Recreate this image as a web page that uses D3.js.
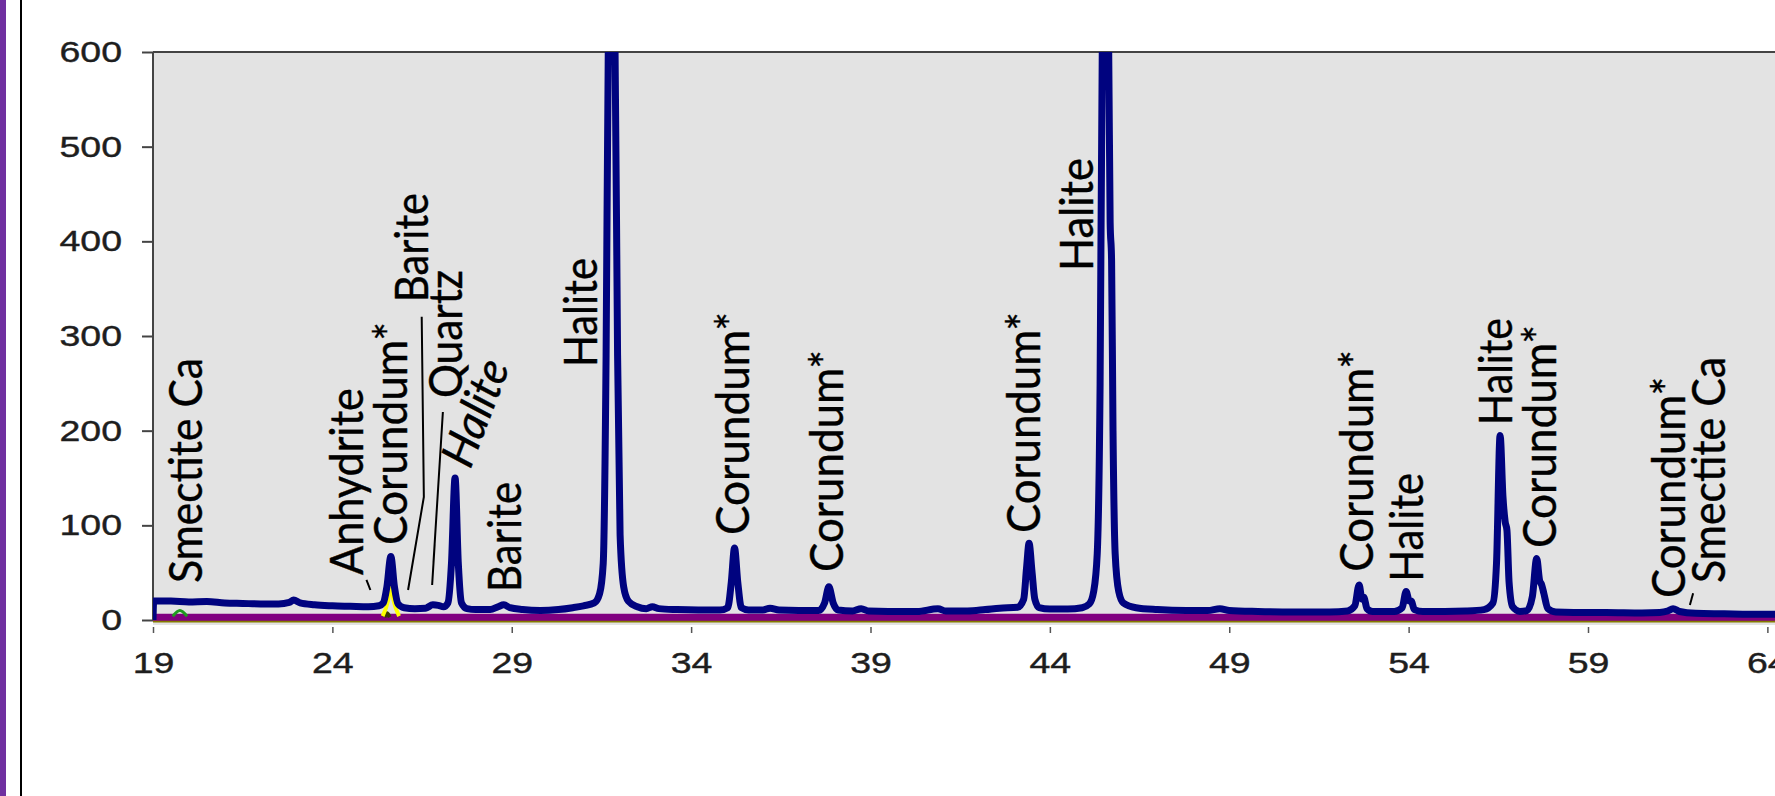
<!DOCTYPE html>
<html>
<head>
<meta charset="utf-8">
<script src="https://cdn.jsdelivr.net/npm/d3@7"></script>
<style>
  body { margin: 0; background: #ffffff; }
  svg { display: block; }
</style>
</head>
<body>
<div id="content"></div>
<script>
var observed = [
  [19.00, 0], [19.02, 20], [19.5, 20], [20.0, 19], [20.5, 19.5], [21.0, 18], [21.5, 17.5],
  [22.0, 17], [22.5, 17], [22.8, 18.5], [22.92, 21], [23.1, 18], [23.5, 16], [24.0, 15],
  [24.5, 14.5], [25.0, 14], [25.3, 15], [25.42, 18], [25.52, 35], [25.63, 67], [25.73, 35],
  [25.83, 17], [26.0, 13], [26.3, 12], [26.6, 12.5], [26.8, 16], [26.95, 15.5], [27.1, 14],
  [27.22, 18], [27.32, 60], [27.42, 150], [27.51, 60], [27.6, 18], [27.75, 12], [28.0, 11],
  [28.4, 11], [28.62, 14], [28.78, 16], [28.95, 13], [29.3, 11], [29.8, 10], [30.3, 11],
  [30.7, 13], [31.0, 15], [31.3, 18], [31.45, 28], [31.55, 60], [31.63, 280], [31.69, 600],
  [31.78, 720], [31.88, 600], [31.95, 280], [32.02, 90], [32.12, 35], [32.25, 20], [32.5, 14],
  [32.75, 12], [32.92, 14], [33.1, 12], [33.6, 11], [34.2, 10.5], [34.8, 10.5], [35.02, 13],
  [35.12, 40], [35.21, 76], [35.3, 40], [35.4, 13], [35.6, 10.5], [36.0, 10.5], [36.2, 12.5],
  [36.45, 10.5], [37.0, 10], [37.55, 10], [37.72, 18], [37.84, 35], [37.96, 18], [38.1, 10.5],
  [38.5, 9.5], [38.74, 12], [38.95, 9.5], [39.5, 9], [40.3, 9], [40.88, 12], [41.1, 9.5],
  [41.7, 9.5], [42.2, 11], [42.6, 12.5], [43.1, 13.5], [43.27, 22], [43.35, 55], [43.42, 81],
  [43.5, 52], [43.58, 22], [43.7, 13], [44.0, 11.5], [44.5, 11.5], [44.9, 13], [45.1, 17],
  [45.22, 30], [45.32, 70], [45.4, 250], [45.46, 600], [45.55, 720], [45.64, 600], [45.68, 420],
  [45.72, 380], [45.76, 200], [45.82, 70], [45.92, 30], [46.05, 18], [46.4, 13], [47.0, 11],
  [47.8, 10], [48.4, 10], [48.74, 12], [49.0, 10], [49.8, 9], [50.8, 8.5], [51.8, 8.5],
  [52.3, 9.5], [52.5, 15], [52.62, 37], [52.7, 22], [52.75, 24], [52.84, 12], [53.0, 9],
  [53.6, 9], [53.82, 13], [53.93, 30], [54.02, 20], [54.07, 20], [54.16, 11], [54.4, 9],
  [55.0, 9], [55.6, 9.5], [56.1, 11], [56.35, 18], [56.45, 60], [56.55, 195], [56.63, 130],
  [56.69, 104], [56.74, 95], [56.8, 40], [56.9, 14], [57.1, 9], [57.3, 10], [57.45, 25],
  [57.57, 65], [57.65, 42], [57.71, 37], [57.77, 28], [57.88, 12], [58.1, 8.5], [58.6, 8],
  [59.5, 8], [60.5, 7.5], [61.0, 8], [61.22, 9.5], [61.37, 12], [61.55, 9], [62.0, 7],
  [62.8, 6.5], [63.5, 6], [64.3, 6]
];

// Phase traces near the bottom
var smectiteTrace = [[19.55, 4], [19.75, 10], [19.95, 4]];
var corundumTrace = [[25.4, 4], [25.55, 20], [25.63, 36], [25.71, 20], [25.86, 4]];
var anhydriteTrace = [[25.45, 3], [25.52, 7], [25.6, 3]];
var backgroundTrace = [[19, 3], [64.3, 3]];
var zeroTrace = [[19, -1], [64.3, -1]];

// Axis ticks
var xTicks = [19, 24, 29, 34, 39, 44, 49, 54, 59, 64];
var yTicks = [0, 100, 200, 300, 400, 500, 600];

// Peak labels: start [2theta, counts] and end [2theta, counts]
var labelText = ["Smectite Ca", "Anhydrite", "Corundum*", "Barite", "Quartz", "Halite", "Barite",
  "Halite", "Corundum*", "Corundum*", "Corundum*", "Halite", "Corundum*", "Halite", "Halite",
  "Corundum*", "Corundum*", "Smectite Ca"];
var labelTheta = [20.36, 24.85, 26.07, 26.67, 27.61, 27.84, 29.26, 31.38, 35.61, 38.23, 43.72,
  45.2, 53.0, 54.39, 56.87, 58.11, 61.7, 62.82];
var labelFrom = [39.1, 47.5, 79.2, 336, 234.5, 158.4, 29.6, 267.2, 89.8, 50.7, 91.9, 368.6, 51,
  40.5, 206, 76, 23.2, 39.1];
var labelThetaEnd = [20.36, 24.85, 26.07, 26.67, 27.61, 28.95, 29.26, 31.38, 35.61, 38.23, 43.72,
  45.2, 53.0, 54.39, 56.87, 58.11, 61.7, 62.82];
var labelTo = [276.8, 245, 314.8, 451, 369.7, 267.6, 145.8, 382.4, 325.3, 285.2, 325.3, 488,
  285.2, 155.3, 319, 311.6, 256.7, 277.8];

// Leader lines from labels to peaks
var leaders = [
  [[24.95, 42.3], [25.06, 31.7]],
  [[26.49, 320.4], [26.55, 130], [26.11, 31.7]],
  [[27.08, 219.7], [26.78, 37]],
  [[61.84, 15.8], [61.93, 28.2]]
];

// Image size
var width = 1775;
var height = 796;

// Plot frame
var plotLeft = 153;
var plotTop = 52;
var plotBottom = 625;

// Tick labels in the source look stretched sideways
var tickStretch = 1.25;

var x = d3.scaleLinear().domain([19, 64]).range([153, 153 + 45 * 35.875]);
var y = d3.scaleLinear().domain([0, 600]).range([620, 52]);

var svg = d3.select("#content")
  .append("svg")
  .attr("width", width)
  .attr("height", height);

// Slide decoration on the left
svg.append("rect")
  .attr("x", 0).attr("y", 0)
  .attr("width", 6).attr("height", height)
  .style("fill", "#7030a0");
svg.append("line")
  .attr("x1", 21).attr("x2", 21)
  .attr("y1", 0).attr("y2", height)
  .style("stroke", "#000").style("stroke-width", 2);

// Plot background
svg.append("rect")
  .attr("x", plotLeft).attr("y", plotTop)
  .attr("width", width - plotLeft).attr("height", plotBottom - plotTop)
  .style("fill", "#e3e3e3");

svg.append("clipPath").attr("id", "plotClip")
  .append("rect")
  .attr("x", plotLeft).attr("y", plotTop)
  .attr("width", width - plotLeft).attr("height", plotBottom - plotTop);

function styleTickText(sel){
  sel.style("font-family", "'Liberation Sans', Arial, sans-serif")
    .style("font-size", "30px")
    .style("fill", "#1e1e1e")
    .style("stroke", "#1e1e1e")
    .style("stroke-width", 0.4)
    .each(function(){
      var w = this.getComputedTextLength();
      d3.select(this)
        .attr("textLength", w * tickStretch)
        .attr("lengthAdjust", "spacingAndGlyphs");
    });
}

// Y axis
var yAxis = svg.append("g")
  .attr("transform", "translate(" + plotLeft + ",0)")
  .call(d3.axisLeft(y).tickValues(yTicks).tickSize(11).tickPadding(20));
yAxis.select(".domain").remove();
yAxis.selectAll("line").style("stroke", "#444").style("stroke-width", 2);
styleTickText(yAxis.selectAll("text"));

// X axis
var xAxis = svg.append("g")
  .attr("transform", "translate(0," + (plotBottom + 2) + ")")
  .call(d3.axisBottom(x).tickValues(xTicks).tickSize(6).tickPadding(19));
xAxis.select(".domain").remove();
xAxis.selectAll("line").style("stroke", "#555").style("stroke-width", 1.5);
styleTickText(xAxis.selectAll("text"));

// Frame lines (left and top)
svg.append("line")
  .attr("x1", plotLeft).attr("x2", plotLeft)
  .attr("y1", plotTop).attr("y2", y(0))
  .style("stroke", "#444").style("stroke-width", 2);
svg.append("line")
  .attr("x1", plotLeft).attr("x2", width)
  .attr("y1", plotTop).attr("y2", plotTop)
  .style("stroke", "#444").style("stroke-width", 2);

var plot = svg.append("g").attr("clip-path", "url(#plotClip)");

var line = d3.line()
  .x(function(d){ return x(d[0]); })
  .y(function(d){ return y(d[1]); })
  .curve(d3.curveMonotoneX);

function drawTrace(data, color, w){
  plot.append("path")
    .datum(data)
    .attr("d", line)
    .style("fill", "none")
    .style("stroke", color)
    .style("stroke-width", w)
    .style("stroke-linejoin", "round");
}

drawTrace(zeroTrace, "#857a00", 3);
drawTrace(backgroundTrace, "#800080", 7);
drawTrace(smectiteTrace, "#1f9a1f", 3);
drawTrace(anhydriteTrace, "#3a3a00", 4);
drawTrace(corundumTrace, "#ffff00", 4);
drawTrace(observed, "#00037f", 7);

// Leader lines
leaders.forEach(function(pts){
  svg.append("path")
    .datum(pts)
    .attr("d", d3.line().x(function(d){ return x(d[0]); }).y(function(d){ return y(d[1]); }))
    .style("fill", "none")
    .style("stroke", "#000")
    .style("stroke-width", 2);
});

// Peak labels, drawn along their start/end points
var italicIndex = 5;
labelText.forEach(function(txt, i){
  var x0 = x(labelTheta[i]), y0 = y(labelFrom[i]);
  var x1 = x(labelThetaEnd[i]), y1 = y(labelTo[i]);
  var angle = Math.atan2(y1 - y0, x1 - x0) * 180 / Math.PI;
  var len = Math.sqrt((x1 - x0) * (x1 - x0) + (y1 - y0) * (y1 - y0));
  svg.append("text")
    .attr("transform", "translate(" + x0 + "," + y0 + ") rotate(" + angle + ")")
    .attr("textLength", len)
    .attr("lengthAdjust", "spacingAndGlyphs")
    .style("font-family", "Lato, 'Open Sans', sans-serif")
    .style("font-size", "46px")
    .style("font-style", i === italicIndex ? "italic" : "normal")
    .style("fill", "#000")
    .style("stroke", "#000")
    .style("stroke-width", 0.4)
    .text(txt);
});
</script>
</body>
</html>
